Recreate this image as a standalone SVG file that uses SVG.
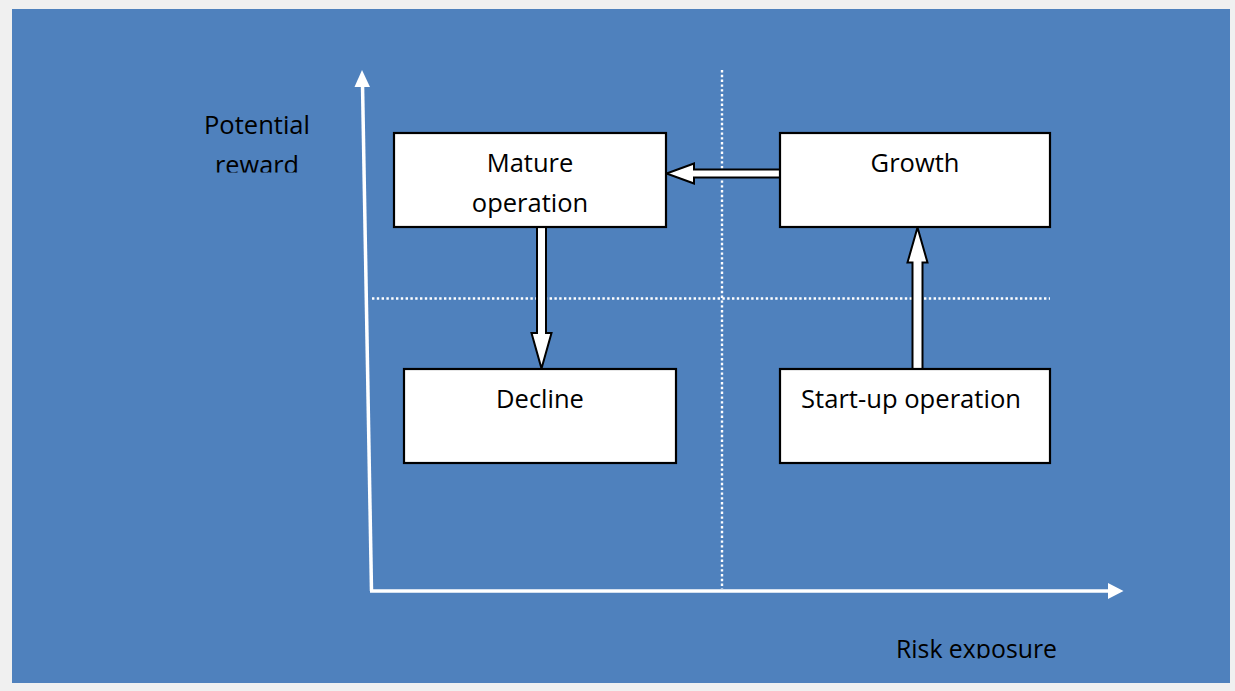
<svg xmlns="http://www.w3.org/2000/svg" width="1235" height="691" viewBox="0 0 1235 691">
  <defs>
    <style>
      .box { fill: #ffffff; stroke: #000000; stroke-width: 2.2; }
      .lbl { font-family: "Open Sans", "Noto Sans", "Liberation Sans", sans-serif; font-size: 25.5px; fill: #000000; }
      .mid { text-anchor: middle; }
      .axis { stroke: #ffffff; stroke-width: 3.5; fill: none; }
      .axhead { fill: #ffffff; stroke: none; }
      .grid { stroke: #ffffff; stroke-width: 2.4; stroke-dasharray: 2.4 2.4; fill: none; }
      .blk { fill: #ffffff; stroke: #000000; stroke-width: 2; stroke-linejoin: miter; }
    </style>
    <clipPath id="clipReward"><rect x="150" y="140" width="200" height="32.5"/></clipPath>
    <clipPath id="clipRisk"><rect x="850" y="620" width="250" height="38.5"/></clipPath>
  </defs>

  <rect x="0" y="0" width="1235" height="691" fill="#f0f0f0"/>
  <rect x="12" y="9" width="1218" height="674" fill="#4f81bd"/>

  <g id="grid">
    <line class="grid" x1="722" y1="70" x2="722" y2="589"/>
    <line class="grid" x1="372" y1="298.5" x2="1050" y2="298.5"/>
  </g>

  <g id="axes">
    <line class="axis" x1="371.5" y1="591" x2="362.5" y2="84"/>
    <polygon class="axhead" points="362,70 354.5,87 370,87"/>
    <line class="axis" x1="370" y1="591" x2="1110" y2="591"/>
    <polygon class="axhead" points="1123.5,591 1108,583 1108,599"/>
  </g>

  <g id="axis-labels">
    <text class="lbl" x="204" y="134" textLength="106" lengthAdjust="spacingAndGlyphs">Potential</text>
    <text class="lbl" x="215" y="174" textLength="84" lengthAdjust="spacingAndGlyphs" clip-path="url(#clipReward)">reward</text>
    <text class="lbl" x="896" y="658" textLength="161" lengthAdjust="spacingAndGlyphs" clip-path="url(#clipRisk)">Risk exposure</text>
  </g>

  <g id="connectors">
    <!-- Growth -> Mature (left) -->
    <polygon class="blk" points="780,169.5 694,169.5 694,163.5 666.5,173.5 694,183.5 694,177.5 780,177.5"/>
    <!-- Mature -> Decline (down) -->
    <polygon class="blk" points="537,227 546,227 546,333 551.5,333 541.5,368.5 531.5,333 537,333"/>
    <!-- Start-up -> Growth (up) -->
    <polygon class="blk" points="912.5,369 922.5,369 922.5,262.5 927.5,262.5 917.5,227.5 907.5,262.5 912.5,262.5"/>
  </g>

  <g id="node-mature">
    <rect class="box" x="394" y="133" width="272" height="94"/>
    <text class="lbl mid" x="530" y="172">Mature</text>
    <text class="lbl mid" x="530" y="212">operation</text>
  </g>

  <g id="node-growth">
    <rect class="box" x="780" y="133" width="270" height="94"/>
    <text class="lbl mid" x="915" y="172">Growth</text>
  </g>

  <g id="node-decline">
    <rect class="box" x="404" y="369" width="272" height="94"/>
    <text class="lbl mid" x="540" y="408">Decline</text>
  </g>

  <g id="node-startup">
    <rect class="box" x="780" y="369" width="270" height="94"/>
    <text class="lbl" x="801" y="408" textLength="220" lengthAdjust="spacingAndGlyphs">Start-up operation</text>
  </g>
</svg>
